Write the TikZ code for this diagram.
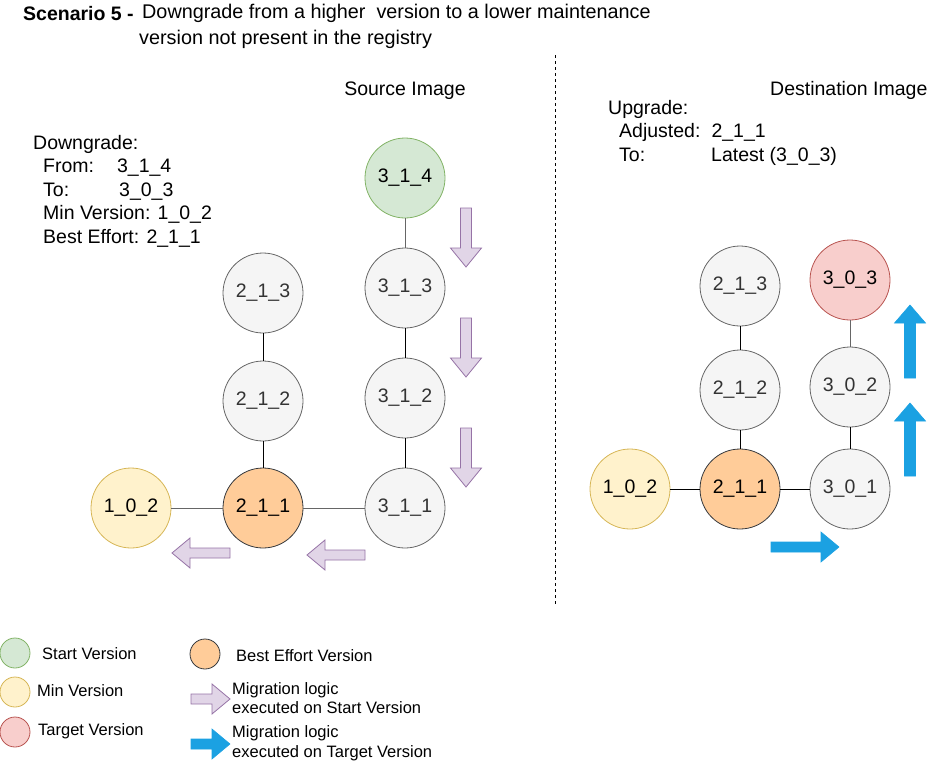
\documentclass[tikz,border=0pt]{standalone}
\usepackage{fontspec}
\setmainfont{Liberation Sans}
\usetikzlibrary{shapes.arrows}
\definecolor{grayF}{HTML}{F5F5F5}
\definecolor{grayS}{HTML}{666666}
\definecolor{grayT}{HTML}{333333}
\definecolor{greenF}{HTML}{D5E8D4}
\definecolor{greenS}{HTML}{82B366}
\definecolor{yelF}{HTML}{FFF2CC}
\definecolor{yelS}{HTML}{D6B656}
\definecolor{redF}{HTML}{F8CECC}
\definecolor{redS}{HTML}{B85450}
\definecolor{orF}{HTML}{FFCC99}
\definecolor{orS}{HTML}{36393D}
\definecolor{purF}{HTML}{E1D5E7}
\definecolor{purS}{HTML}{9673A6}
\definecolor{blueF}{HTML}{1BA1E2}
\definecolor{blueS}{HTML}{006EAF}
\tikzset{
  ver/.style={circle, minimum size=80pt, inner sep=0pt, line width=0.8pt, font=\fontsize{19.5}{22}\selectfont},
  vgray/.style={ver, fill=grayF, draw=grayS, text=grayT},
  vgreen/.style={ver, fill=greenF, draw=greenS},
  vyel/.style={ver, fill=yelF, draw=yelS},
  vred/.style={ver, fill=redF, draw=redS},
  vor/.style={ver, fill=orF, draw=orS},
  lg/.style={circle, minimum size=30pt, inner sep=0pt, line width=0.8pt},
  edgeB/.style={line width=0.8pt, black},
  edgeG/.style={line width=1pt, grayS},
  txt/.style={font=\fontsize{19.5}{23.5}\selectfont, inner sep=0pt, align=left},
  ltxt/.style={font=\fontsize{16.5}{19.5}\selectfont, inner sep=0pt, align=left},
  parr/.style={fill=purF, draw=purS, line width=0.8pt, line join=miter},
  barr/.style={fill=blueF, draw=blueF, line width=0.6pt, line join=miter},
}
\newcommand{\myarrowD}[4]{% x, ytop, ytip, style  (down)
  \path[#4] (#1-5.5,#2) -- (#1+5.5,#2) -- (#1+5.5,#3-19) -- (#1+15.5,#3-19) -- (#1,#3) -- (#1-15.5,#3-19) -- (#1-5.5,#3-19) -- cycle;}
\newcommand{\myarrowU}[4]{% x, ybottom, ytip, style (up)
  \path[#4] (#1-5.5,#2) -- (#1+5.5,#2) -- (#1+5.5,#3+18) -- (#1+15.5,#3+18) -- (#1,#3) -- (#1-15.5,#3+18) -- (#1-5.5,#3+18) -- cycle;}
\newcommand{\myarrowL}[4]{% y, xtail, xtip, style (left)
  \path[#4] (#2,#1-5) -- (#2,#1+5) -- (#3+18,#1+5) -- (#3+18,#1+15) -- (#3,#1) -- (#3+18,#1-15) -- (#3+18,#1-5) -- cycle;}
\newcommand{\myarrowR}[4]{% y, xtail, xtip, style (right)
  \path[#4] (#2,#1-5) -- (#2,#1+5) -- (#3-18,#1+5) -- (#3-18,#1+15) -- (#3,#1) -- (#3-18,#1-15) -- (#3-18,#1-5) -- cycle;}
\begin{document}
\begin{tikzpicture}[x=1pt,y=-1pt]
\useasboundingbox (0,0) rectangle (941,761);

% title
\node[txt, anchor=west, font=\fontsize{19.5}{23}\selectfont\bfseries] (tA) at (23,14) {Scenario 5 -};
\node[txt, anchor=north west, font=\fontsize{19.8}{26}\selectfont] (tB) at (139,4) {\hspace*{3pt}Downgrade from a higher\ \ version to a lower maintenance\\version not present in the registry};

% headings
\node[txt] (src) at (405,91) {Source Image};
\node[txt, anchor=west] (dst) at (770,90) {Destination Image};

% left info
\node[txt, anchor=north west, text depth=0pt] (info) at (33,135) {Downgrade:\\
\hspace*{10pt}From:\hspace*{23pt}3\_1\_4\\
\hspace*{10pt}To:\hspace*{50pt}3\_0\_3\\
\hspace*{10pt}Min Version: 1\_0\_2\\
\hspace*{10pt}Best Effort: 2\_1\_1};

% right info
\node[txt, anchor=north west] (up) at (608,100) {Upgrade:\\
\hspace*{11pt}Adjusted:\hspace*{11pt}2\_1\_1\\
\hspace*{11pt}To:\hspace*{66pt}Latest (3\_0\_3)};

% dashed divider
\coordinate (d1) at (555,55);
\coordinate (d2) at (555,604);
\draw[dashed, line width=0.9pt, dash pattern=on 3pt off 3pt] (d1) -- (d2);

% left nodes
\node[vgreen] (s314) at (405,178) {3\_1\_4};
\node[vgray] (s313) at (405,288) {3\_1\_3};
\node[vgray] (s312) at (405,398) {3\_1\_2};
\node[vgray] (s311) at (405,508) {3\_1\_1};
\node[vgray] (s213) at (263,293) {2\_1\_3};
\node[vgray] (s212) at (263,401) {2\_1\_2};
\node[vor]  (s211) at (263,508) {2\_1\_1};
\node[vyel] (s102) at (131,508) {1\_0\_2};

\draw[edgeG] (s314) -- (s313);
\draw[edgeB] (s313) -- (s312);
\draw[edgeB] (s312) -- (s311);
\draw[edgeB] (s213) -- (s212);
\draw[edgeB] (s212) -- (s211);
\draw[edgeG] (s102) -- (s211);
\draw[edgeG] (s211) -- (s311);

% purple arrows
\myarrowD{466}{208}{267}{parr}
\myarrowD{466}{318}{377}{parr}
\myarrowD{466}{428}{487}{parr}
\myarrowL{553}{230}{172}{parr}
\myarrowL{555}{365}{307}{parr}

% right nodes
\node[vred]  (d303) at (850,280) {3\_0\_3};
\node[vgray] (d302) at (850,387) {3\_0\_2};
\node[vgray] (d301) at (850,489) {3\_0\_1};
\node[vgray] (d213) at (740,286) {2\_1\_3};
\node[vgray] (d212) at (740,390) {2\_1\_2};
\node[vor]   (d211) at (740,489) {2\_1\_1};
\node[vyel]  (d102) at (630,489) {1\_0\_2};

\draw[edgeG] (d303) -- (d302);
\draw[edgeB] (d302) -- (d301);
\draw[edgeB] (d213) -- (d212);
\draw[edgeB] (d212) -- (d211);
\draw[edgeB] (d102) -- (d211);
\draw[edgeB] (d211) -- (d301);

% blue arrows
\myarrowU{910}{378}{305}{barr}
\myarrowU{910}{476}{403}{barr}
\myarrowR{547}{771}{839}{barr}

% legend
\node[lg, fill=greenF, draw=greenS] (lg1) at (15,653) {};
\node[ltxt, anchor=west] (lt1) at (42,654) {Start Version};
\node[lg, fill=yelF, draw=yelS] (lg2) at (15,692) {};
\node[ltxt, anchor=west] (lt2) at (37,691) {Min Version};
\node[lg, fill=redF, draw=redS] (lg3) at (15,732) {};
\node[ltxt, anchor=west] (lt3) at (38,731) {Target Version};
\node[lg, fill=orF, draw=orS] (lg4) at (205,654) {};
\node[ltxt, anchor=west] (lt4) at (236,656) {Best Effort Version};
\myarrowR{699}{191}{230}{parr}
\node[ltxt, anchor=west] (lt5) at (232,698) {Migration logic\\executed on Start Version};
\myarrowR{744}{191}{230}{barr}
\node[ltxt, anchor=west] (lt6) at (232,743) {Migration logic\\executed on Target Version};
\end{tikzpicture}
\end{document}
